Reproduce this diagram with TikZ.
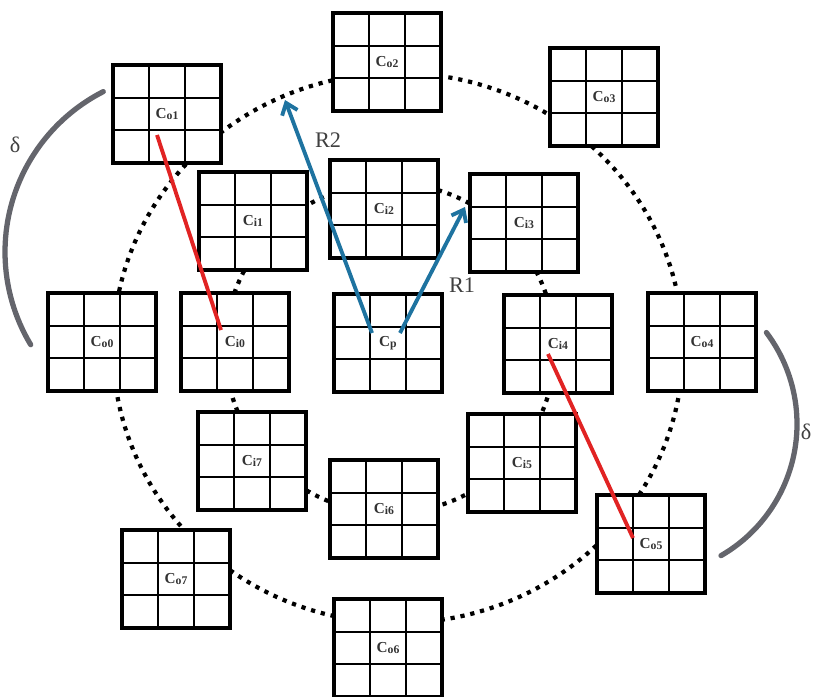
\documentclass[tikz,border=0pt]{standalone}
\usepackage{fontspec}
\setmainfont{Liberation Serif}
\usetikzlibrary{arrows.meta}
\definecolor{linkred}{RGB}{225,35,35}
\definecolor{radblue}{RGB}{30,115,160}
\definecolor{arcgray}{RGB}{100,101,108}
\newcommand{\clab}[1]{C\raisebox{-1pt}{\fontsize{10}{10}\selectfont #1}}

\begin{document}
\begin{tikzpicture}[x=0.03cm, y=-0.03cm, >=Stealth,
    cellbox/.style={draw=black, line width=3pt, fill=white,
      minimum width=3.24cm, minimum height=2.94cm, inner sep=0pt,
      text=black!80, font=\fontsize{13}{13}\selectfont\bfseries,
      path picture={
        \foreach \k in {1,2}{
          \draw[line width=1.9pt]
            ([xshift=\k*1.08cm]path picture bounding box.north west) --
            ([xshift=\k*1.08cm]path picture bounding box.south west);
          \draw[line width=1.9pt]
            ([yshift=-\k*0.98cm]path picture bounding box.north west) --
            ([yshift=-\k*0.98cm]path picture bounding box.north east);
        }}},
    ring/.style={line width=3.6pt, dash pattern=on 3.6pt off 5pt},
    link/.style={linkred, line width=3.3pt},
    radarrow/.style={radblue, line width=3.3pt,
      -{Straight Barb[length=9pt, width=14pt]}},
    deltaarc/.style={arcgray, line width=4.5pt, line cap=round},
    tag/.style={font=\fontsize{19}{19}\selectfont, text=black!75}]
  \useasboundingbox (0,0) rectangle (813,696);
  % ── dotted rings ──
  \draw[ring] (398,348) ellipse [x radius=285, y radius=275];
  \draw[ring] (390,348) circle [radius=165];
  % ── outer cells ──
  \node[cellbox] (o0) at (102,342) {\clab{o0}};
  \node[cellbox] (o1) at (167,114) {\clab{o1}};
  \node[cellbox] (o2) at (387,62)  {\clab{o2}};
  \node[cellbox] (o3) at (604,97)  {\clab{o3}};
  \node[cellbox] (o4) at (702,342) {\clab{o4}};
  \node[cellbox] (o5) at (651,544) {\clab{o5}};
  \node[cellbox] (o6) at (388,648) {\clab{o6}};
  \node[cellbox] (o7) at (176,579) {\clab{o7}};
  % ── inner cells ──
  \node[cellbox] (i0) at (235,342) {\clab{i0}};
  \node[cellbox] (i1) at (253,221) {\clab{i1}};
  \node[cellbox] (i2) at (384,209) {\clab{i2}};
  \node[cellbox] (i3) at (524,223) {\clab{i3}};
  \node[cellbox] (i4) at (558,344) {\clab{i4}};
  \node[cellbox] (i5) at (522,463) {\clab{i5}};
  \node[cellbox] (i6) at (384,509) {\clab{i6}};
  \node[cellbox] (i7) at (252,461) {\clab{i7}};
  % ── centre cell ──
  \node[cellbox] (p) at (388,343) {\clab{p}};
  % ── red links ──
  \draw[link] ([shift={(-10,21)}]o1.center) -- ([shift={(-14,-12)}]i0.center);
  \draw[link] ([shift={(-10,10)}]i4.center) -- ([shift={(-18,-6)}]o5.center);
  % ── radii ──
  \coordinate (r2end) at (285,100);
  \coordinate (r1end) at (465,207);
  \draw[radarrow] ([shift={(-16,-10)}]p.center) -- (r2end);
  \draw[radarrow] ([shift={(12,-10)}]p.center) -- (r1end);
  \node[tag] (r2) at (328,140) {R2};
  \node[tag] (r1) at (462,285) {R1};
  % ── delta arcs ──
  \draw[deltaarc] (185,252) ++(149:180) arc[start angle=149, end angle=243, radius=180];
  \draw[deltaarc] (645,424) ++(-37:152) arc[start angle=-37, end angle=60, radius=152];
  \node[tag] (d1) at (15,145) {δ};
  \node[tag] (d2) at (806,432) {δ};
\end{tikzpicture}
\end{document}
